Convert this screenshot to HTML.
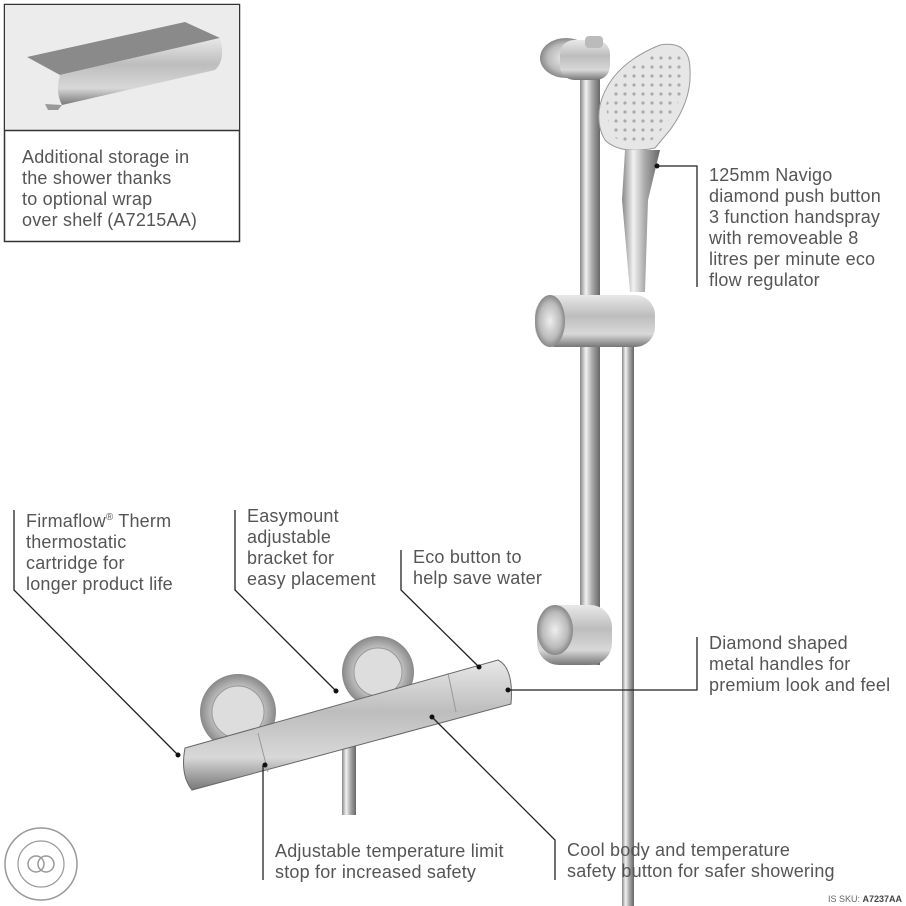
<!DOCTYPE html>
<html><head><meta charset="utf-8"><style>
html,body{margin:0;padding:0;background:#fff}
body{width:906px;height:906px;position:relative;overflow:hidden;font-family:"Liberation Sans",sans-serif;color:#555}
.t{position:absolute;font-size:18px;letter-spacing:0.2px;line-height:21px;white-space:nowrap}
</style></head><body>
<svg width="906" height="906" style="position:absolute;left:0;top:0">
<defs>
<linearGradient id="ch" x1="0" x2="1"><stop offset="0" stop-color="#888"/><stop offset=".3" stop-color="#f2f2f2"/><stop offset=".6" stop-color="#aaa"/><stop offset="1" stop-color="#666"/></linearGradient>
<linearGradient id="chv" x1="0" y1="0" x2="0" y2="1"><stop offset="0" stop-color="#e8e8e8"/><stop offset=".4" stop-color="#bdbdbd"/><stop offset=".75" stop-color="#d8d8d8"/><stop offset="1" stop-color="#777"/></linearGradient>
<radialGradient id="rd"><stop offset="0" stop-color="#eee"/><stop offset=".7" stop-color="#bbb"/><stop offset="1" stop-color="#888"/></radialGradient>
<pattern id="dots" width="9" height="9" patternUnits="userSpaceOnUse"><circle cx="4" cy="4" r="1.6" fill="#aaa"/></pattern>
</defs>
<!-- box -->
<rect x="4.5" y="4.5" width="235" height="237" fill="#fff" stroke="#333" stroke-width="1.5"/>
<rect x="5" y="5" width="234" height="125" fill="#ececec"/>
<line x1="4" y1="130.5" x2="240" y2="130.5" stroke="#333" stroke-width="1.5"/>
<polygon points="27,57 185,22 220,38 60,75" fill="#8a8a8a"/>
<path d="M60,75 L220,38 Q226,60 215,70 L62,105 Q55,92 60,75Z" fill="url(#chv)"/>
<polygon points="45,104 62,105 58,110 48,110" fill="#999"/>
<!-- rail -->
<rect x="580" y="45" width="20" height="620" fill="url(#ch)"/>
<rect x="622" y="340" width="12" height="566" fill="url(#ch)"/>
<ellipse cx="566" cy="58" rx="26" ry="20" fill="url(#rd)"/>
<rect x="560" y="40" width="50" height="40" rx="14" fill="url(#chv)"/>
<rect x="585" y="36" width="18" height="12" rx="4" fill="#bbb"/>
<!-- handspray -->
<path d="M600,105 Q610,65 660,45 Q690,40 690,70 Q692,100 670,130 L655,148 Q620,155 605,140 Q596,125 600,105Z" fill="#e6e6e6" stroke="#999"/>
<path d="M606,105 Q614,70 660,52 Q684,48 684,72 Q684,100 665,126 L652,140 Q622,146 610,134Z" fill="url(#dots)"/>
<path d="M625,150 L660,150 L648,200 L645,292 L630,292 L622,200Z" fill="url(#ch)"/>
<!-- slider -->
<rect x="535" y="295" width="120" height="52" rx="20" fill="url(#chv)"/>
<ellipse cx="550" cy="321" rx="15" ry="26" fill="url(#rd)"/>
<!-- bottom bracket -->
<rect x="537" y="605" width="75" height="60" rx="22" fill="url(#chv)"/>
<ellipse cx="555" cy="630" rx="18" ry="25" fill="url(#rd)"/>
<!-- valve -->
<rect x="342" y="740" width="14" height="75" fill="url(#ch)"/>
<circle cx="238" cy="712" r="38" fill="url(#rd)"/>
<circle cx="238" cy="712" r="26" fill="#ddd" stroke="#999"/>
<circle cx="378" cy="672" r="36" fill="url(#rd)"/>
<circle cx="378" cy="672" r="24" fill="#ddd" stroke="#999"/>
<path d="M185,748 L498,660 Q514,668 511,704 L192,790 Q180,775 185,748Z" fill="url(#chv)" stroke="#666"/>
<line x1="258" y1="733" x2="268" y2="772" stroke="#999"/>
<line x1="448" y1="673" x2="456" y2="712" stroke="#999"/>
<!-- leaders -->
<g stroke="#222" stroke-width="1.3" fill="none">
<polyline points="657,166 697,166 697,287"/>
<polyline points="14,510 14,590 178,755"/>
<polyline points="235,510 235,590 336,691"/>
<polyline points="401,550 401,590 479,667"/>
<polyline points="697,637 697,690 508,690"/>
<polyline points="263,765 263,880"/>
<polyline points="432,717 555,840 555,880"/>
</g>
<g fill="#111"><circle cx="657" cy="166" r="2.5"/><circle cx="178" cy="755" r="2.5"/><circle cx="336" cy="691" r="2.5"/><circle cx="479" cy="667" r="2.5"/><circle cx="508" cy="690" r="2.5"/><circle cx="432" cy="717" r="2.5"/><circle cx="265" cy="765" r="2.5"/></g>
<!-- logo -->
<circle cx="41" cy="864" r="36" fill="none" stroke="#999" stroke-width="1.5"/>
<circle cx="41" cy="864" r="23" fill="none" stroke="#999" stroke-width="1.2"/>
<circle cx="36" cy="864" r="8" fill="none" stroke="#999" stroke-width="1.5"/>
<circle cx="46" cy="864" r="8" fill="none" stroke="#999" stroke-width="1.5"/>
<text x="828" y="902" font-family="Liberation Sans" font-size="9" fill="#666">IS SKU: <tspan font-weight="bold" fill="#444">A7237AA</tspan></text>
</svg>
<div class="t" style="left:22px;top:147px">Additional storage in<br>the shower thanks<br>to optional wrap<br>over shelf (A7215AA)</div>
<div class="t" style="left:709px;top:165px">125mm Navigo<br>diamond push button<br>3 function handspray<br>with removeable 8<br>litres per minute eco<br>flow regulator</div>
<div class="t" style="left:26px;top:507px">Firmaflow<sup style="font-size:10px">®</sup> Therm<br>thermostatic<br>cartridge for<br>longer product life</div>
<div class="t" style="left:247px;top:506px">Easymount<br>adjustable<br>bracket for<br>easy placement</div>
<div class="t" style="left:413px;top:547px">Eco button to<br>help save water</div>
<div class="t" style="left:709px;top:633px">Diamond shaped<br>metal handles for<br>premium look and feel</div>
<div class="t" style="left:275px;top:841px">Adjustable temperature limit<br>stop for increased safety</div>
<div class="t" style="left:567px;top:840px">Cool body and temperature<br>safety button for safer showering</div>
</body></html>
